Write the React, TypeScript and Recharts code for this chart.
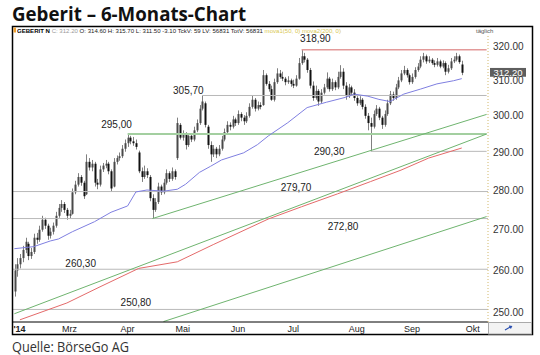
import React from 'react';
import { ComposedChart, Bar, Line, XAxis, YAxis, ReferenceLine, ReferenceDot } from 'recharts';

// daily candles: [open, high, low, close]
const OHLC: [number, number, number, number][] = [
  [255.0, 261.5, 253.8, 260.0], [260.0, 263.0, 258.5, 261.5], [261.5, 264.0, 260.5, 263.0], [263.0, 266.0, 262.0, 265.0],
  [265.0, 268.0, 264.2, 267.0], [266.5, 267.0, 262.5, 263.5], [263.5, 265.5, 262.8, 264.5], [264.5, 269.0, 264.0, 268.0],
  [268.0, 269.2, 266.5, 267.5], [267.5, 271.0, 267.0, 270.0], [270.0, 273.5, 269.5, 272.5], [272.5, 273.0, 270.2, 271.0],
  [271.0, 271.5, 267.5, 268.5], [268.5, 270.5, 267.8, 269.5], [269.5, 271.8, 268.8, 271.0], [271.0, 274.5, 270.5, 273.5],
  [273.5, 276.5, 273.0, 275.5], [275.5, 277.5, 274.5, 276.5], [276.5, 277.0, 274.2, 275.0], [275.0, 275.5, 272.5, 273.5],
  [273.5, 275.0, 272.8, 274.0], [274.0, 280.5, 273.8, 279.5], [279.5, 282.5, 279.0, 281.5], [281.5, 284.5, 281.0, 283.5],
  [283.5, 284.0, 281.2, 282.0], [282.0, 282.5, 277.8, 278.5], [279.0, 289.5, 278.8, 287.5], [287.5, 288.5, 285.2, 286.0],
  [286.0, 288.0, 285.0, 287.0], [287.0, 287.5, 281.0, 282.0], [282.0, 283.0, 280.3, 281.5], [281.5, 286.5, 281.0, 285.5],
  [285.5, 287.2, 284.8, 286.5], [286.5, 288.0, 285.8, 287.0], [287.0, 287.5, 284.2, 285.0], [285.0, 285.5, 279.6, 280.5],
  [281.0, 288.5, 280.8, 287.5], [287.5, 289.2, 286.8, 288.5], [288.5, 290.0, 287.8, 289.0], [289.0, 292.0, 288.5, 291.0],
  [291.0, 293.5, 290.2, 292.5], [292.5, 295.0, 291.5, 294.0], [294.0, 294.5, 292.2, 293.0], [293.0, 294.2, 291.8, 292.5],
  [292.5, 293.5, 290.8, 291.5], [290.0, 290.5, 284.5, 285.0], [285.0, 286.0, 282.2, 283.5], [283.5, 286.5, 283.0, 285.0],
  [285.0, 285.8, 283.2, 284.0], [283.5, 284.0, 277.2, 278.0], [278.0, 279.0, 272.8, 275.0], [275.0, 278.0, 274.5, 277.0],
  [277.0, 282.0, 276.5, 281.0], [281.0, 281.5, 278.8, 279.5], [279.5, 283.0, 279.0, 282.0], [282.0, 285.5, 281.5, 284.5],
  [284.5, 285.0, 282.2, 283.0], [283.0, 286.0, 282.5, 285.0], [285.0, 285.5, 282.8, 283.5], [288.5, 299.5, 288.0, 298.0],
  [297.5, 298.0, 293.5, 294.0], [294.0, 296.0, 293.2, 295.0], [295.0, 295.5, 290.8, 292.0], [292.0, 295.2, 291.5, 294.5],
  [294.5, 295.0, 292.8, 293.5], [293.5, 297.0, 293.0, 296.0], [296.0, 299.0, 295.5, 298.0], [298.0, 303.0, 297.5, 302.0],
  [302.0, 305.7, 301.5, 304.0], [303.5, 304.0, 296.8, 297.5], [297.0, 297.5, 291.0, 292.0], [292.0, 293.0, 287.5, 289.5],
  [289.5, 292.0, 288.8, 291.0], [291.0, 291.5, 288.5, 289.5], [289.5, 292.0, 289.0, 291.0], [291.0, 294.5, 290.5, 293.5],
  [293.5, 296.5, 293.0, 295.5], [295.5, 298.5, 295.0, 297.5], [297.5, 298.2, 296.0, 297.0], [297.0, 300.0, 296.5, 299.0],
  [299.0, 299.5, 297.2, 298.0], [298.0, 301.5, 297.5, 300.5], [300.5, 301.0, 298.5, 299.5], [299.5, 300.2, 297.5, 298.5],
  [298.5, 301.0, 298.0, 300.0], [300.0, 303.5, 299.5, 302.5], [302.5, 305.6, 302.0, 304.5], [304.5, 305.0, 301.2, 302.0],
  [302.0, 304.0, 301.5, 303.0], [303.0, 303.8, 301.8, 302.5], [303.0, 313.0, 302.8, 311.5], [311.5, 312.0, 308.5, 309.0],
  [309.0, 309.8, 306.8, 307.5], [307.5, 308.5, 304.2, 304.5], [304.5, 310.5, 304.0, 309.5], [309.5, 313.5, 309.0, 312.0],
  [312.0, 313.0, 310.5, 311.0], [311.0, 312.5, 309.8, 310.5], [310.5, 311.0, 308.6, 309.5], [309.5, 311.2, 309.0, 310.0],
  [310.0, 310.5, 308.2, 309.0], [309.0, 310.2, 307.8, 308.5], [308.5, 311.5, 308.2, 310.5], [310.5, 316.5, 310.2, 315.0],
  [315.0, 318.9, 314.5, 317.0], [317.0, 318.0, 315.2, 316.0], [316.0, 316.5, 312.2, 313.0], [313.0, 313.6, 307.7, 308.5],
  [308.5, 309.7, 304.2, 305.0], [305.0, 308.5, 304.5, 307.0], [307.0, 307.5, 302.8, 304.0], [304.0, 307.5, 303.5, 306.5],
  [306.5, 309.0, 306.0, 308.0], [308.0, 312.3, 307.5, 310.5], [310.5, 311.0, 306.8, 307.5], [307.5, 310.5, 307.0, 309.5],
  [309.5, 310.0, 307.2, 308.0], [308.0, 312.5, 307.5, 311.0], [311.0, 314.4, 310.5, 312.5], [312.5, 313.5, 307.5, 308.5],
  [308.5, 309.5, 304.5, 305.5], [305.5, 309.0, 305.0, 308.0], [308.0, 308.5, 305.8, 306.5], [306.5, 307.5, 304.2, 305.0],
  [305.0, 305.5, 302.8, 303.5], [303.5, 305.5, 303.0, 304.5], [304.5, 305.0, 301.8, 302.5], [302.5, 303.2, 299.2, 300.0],
  [300.0, 300.8, 296.0, 298.0], [298.0, 299.5, 290.3, 297.0], [297.0, 301.5, 296.5, 300.5], [300.5, 303.0, 300.0, 302.0],
  [302.0, 302.5, 298.8, 299.5], [299.5, 300.0, 296.4, 297.5], [297.5, 301.5, 297.0, 300.5], [300.5, 304.5, 300.0, 303.5],
  [303.5, 307.0, 303.0, 306.0], [306.0, 306.8, 304.2, 305.0], [305.0, 309.0, 304.5, 308.0], [308.0, 311.0, 307.5, 310.0],
  [310.0, 313.0, 309.5, 312.0], [312.0, 314.2, 311.5, 313.0], [313.0, 313.5, 310.8, 311.5], [311.5, 312.0, 308.8, 309.5],
  [309.5, 312.0, 309.0, 311.0], [311.0, 313.8, 310.5, 313.0], [313.0, 315.0, 312.5, 314.0], [314.0, 317.0, 313.5, 316.0],
  [316.0, 318.0, 315.2, 317.0], [317.0, 317.5, 314.8, 315.5], [315.5, 317.0, 315.0, 316.0], [316.0, 316.5, 314.5, 315.0],
  [315.0, 315.8, 313.8, 314.5], [314.5, 316.5, 314.0, 315.5], [315.5, 316.0, 313.5, 314.0], [314.0, 315.8, 313.5, 315.0],
  [315.0, 315.5, 311.5, 312.5], [312.5, 314.5, 312.0, 313.5], [313.5, 316.5, 313.0, 315.5], [315.5, 317.0, 315.0, 316.0],
  [316.0, 318.0, 315.5, 317.0], [317.0, 317.5, 314.8, 315.3], [314.6, 315.7, 311.5, 312.2],
];

// moving averages read at sample days: [dayIndex, value]
const MA50: [number, number][] = [
  [0, 265.3], [7, 265.8], [13, 267.2], [16, 267.7], [21, 269.5], [29, 272.0], [35, 274.4], [41, 276.0],
  [44, 279.6], [48, 280.1], [54, 279.8], [59, 280.3], [62, 281.6], [67, 284.7], [71, 286.3], [75, 288.0],
  [83, 289.9], [88, 292.1], [92, 294.5], [99, 298.1], [106, 302.3], [113, 303.8], [120, 305.2], [123, 306.1],
  [128, 305.5], [132, 304.6], [136, 304.0], [141, 306.1], [147, 307.5], [153, 309.0], [159, 309.9], [162, 310.5],
];
const MA200: [number, number][] = [
  [2, 248.4], [19, 252.3], [31, 256.1], [45, 260.5], [59, 262.1], [72, 266.3], [92, 272.7], [104, 275.8],
  [117, 279.1], [129, 282.3], [140, 285.3], [150, 288.5], [162, 291.2],
];

const SLOTS = 172;
const MONTH_TICKS = [0, 20, 41, 61, 81, 101, 124, 144, 166];
const MONTH_LABELS = ["'14", 'Mrz', 'Apr', 'Mai', 'Jun', 'Jul', 'Aug', 'Sep', 'Okt'];
const Y_TICKS = [250, 260, 270, 280, 290, 300, 310, 320];
const Y_DOMAIN: [number, number] = [247.9, 323.0];
const LAST_CLOSE = 312.2;

// horizontal levels: value, starting day (null = full width)
const LEVEL_VALUES = [318.9, 305.7, 295.0, 290.3, 279.7, 272.8, 260.3, 250.8];
const LEVEL_FROM: (number | null)[] = [104, 68, 41, 129, null, null, null, null];
const LEVEL_COLORS = ['#e39a9a', '#b9b9b9', '#a3cfa0', '#b9b9b9', '#b9b9b9', '#b9b9b9', '#b9b9b9', '#b9b9b9'];
const LEVEL_WIDTHS = [1.5, 1, 2, 1, 1, 1, 1, 1];

// trend lines: [startDay, startValue, endDay, endValue]
const TRENDS: [number, number, number, number][] = [
  [0, 249.8, 171, 295.0],
  [50, 272.8, 171, 300.4],
  [54, 248.0, 171, 273.3],
];

const LABEL_TEXTS = ['318,90', '305,70', '295,00', '290,30', '279,70', '272,80', '260,30', '250,80'];
const LABEL_DAYS = [109, 63, 37, 114, 102, 119, 24, 44];
const LABEL_VALUES = [322.2, 307.2, 297.5, 290.3, 280.8, 270.8, 261.8, 252.4];

const FONT = '"Liberation Sans", Arial, sans-serif';

const ma50Map = new Map(MA50);
const ma200Map = new Map(MA200);
const data = Array.from({ length: SLOTS }, (_, i) => {
  const row: any = { i };
  const k = OHLC[i];
  if (k) {
    row.o = k[0]; row.h = k[1]; row.l = k[2]; row.c = k[3];
  }
  if (ma50Map.has(i)) row.ma50 = ma50Map.get(i);
  if (ma200Map.has(i)) row.ma200 = ma200Map.get(i);
  return row;
});

function Candle(props: any) {
  const { x, y, width, height, payload } = props;
  if (!payload || payload.h == null || x == null || y == null) return null;
  const top = Math.min(y, y + height);
  const bot = Math.max(y, y + height);
  const span = Math.log(payload.h) - Math.log(payload.l);
  const py = (v: number) => (span > 0 ? top + ((bot - top) * (Math.log(payload.h) - Math.log(v))) / span : top);
  const cx = Math.round(x + width / 2) + 0.5;
  const yo = py(payload.o);
  const yc = py(payload.c);
  const bTop = Math.min(yo, yc);
  const bH = Math.max(Math.abs(yc - yo), 1);
  const up = payload.c >= payload.o;
  return (
    <g>
      <line x1={cx} x2={cx} y1={top} y2={bot} stroke="#808080" strokeWidth={1} />
      <rect x={cx - 1} y={bTop} width={2} height={bH} fill={up ? '#4a4a4a' : '#111'} />
    </g>
  );
}

function XTick(props: any) {
  const { x, y, payload } = props;
  const idx = MONTH_TICKS.indexOf(payload.value);
  const first = idx === 0;
  return (
    <text x={first ? x - 1 : x} y={y + 10} textAnchor={first ? 'start' : 'middle'} fontSize={9}
      fontWeight={first ? 700 : 400} fill="#222" fontFamily={FONT}>
      {MONTH_LABELS[idx]}
    </text>
  );
}

function YTick(props: any) {
  const { x, y, payload } = props;
  return (
    <text x={x + 5} y={y + 3.5} fontSize={10} fill="#333" fontFamily={FONT}>
      {Number(payload.value).toFixed(2)}
    </text>
  );
}

function PriceTag(props: any) {
  const vb = props.viewBox || {};
  const x = (vb.x || 0) + (vb.width || 0) + 2;
  const y = vb.y || 0;
  return (
    <g>
      <rect x={x} y={y - 4.8} width={36} height={8.8} fill="#5e5e5e" />
      <text x={x + 18} y={y + 3} textAnchor="middle" fontSize={9.5} fill="#fff" fontFamily={FONT}>
        {LAST_CLOSE.toFixed(2)}
      </text>
    </g>
  );
}

export default function App() {
  return (
    <div style={{ position: 'absolute', left: 0, top: 0, width: 540, height: 355, background: '#fff', overflow: 'hidden' }}>
      <ComposedChart width={540} height={355} data={data} margin={{ top: 36, right: 8, bottom: 21, left: 13 }}
        barCategoryGap={0}>
        <XAxis dataKey="i" type="category" ticks={MONTH_TICKS} interval={0} tick={<XTick />} tickLine={false}
          tickSize={0} tickMargin={0} height={12} axisLine={{ stroke: '#000', strokeWidth: 1 }} />
        <YAxis orientation="right" scale="log" domain={Y_DOMAIN} allowDataOverflow ticks={Y_TICKS} width={44}
          tick={<YTick />} tickLine={false} tickSize={0} tickMargin={0}
          axisLine={{ stroke: '#d2b86a', strokeWidth: 1, strokeDasharray: '1 2' }} />
        {LEVEL_VALUES.map((v, k) =>
          LEVEL_FROM[k] == null ? (
            <ReferenceLine key={'lv' + k} y={v} stroke={LEVEL_COLORS[k]} strokeWidth={LEVEL_WIDTHS[k]} ifOverflow="visible" />
          ) : (
            <ReferenceLine key={'lv' + k} segment={[{ x: LEVEL_FROM[k] as number, y: v }, { x: SLOTS - 1, y: v }]}
              stroke={LEVEL_COLORS[k]} strokeWidth={LEVEL_WIDTHS[k]} ifOverflow="visible" />
          )
        )}
        {TRENDS.map((t, k) => (
          <ReferenceLine key={'tr' + k} segment={[{ x: t[0], y: t[1] }, { x: t[2], y: t[3] }]}
            stroke="#6fb46f" strokeWidth={1} ifOverflow="visible" />
        ))}
        <Line dataKey="ma200" stroke="#e46a6a" strokeWidth={1} dot={false} connectNulls isAnimationActive={false} />
        <Line dataKey="ma50" stroke="#7f7fe0" strokeWidth={1} dot={false} connectNulls isAnimationActive={false} />
        <Bar dataKey={(d: any) => (d.h == null ? null : [d.l, d.h])} shape={<Candle />} isAnimationActive={false} />
        {LABEL_TEXTS.map((s, k) => (
          <ReferenceDot key={'lb' + k} x={LABEL_DAYS[k]} y={LABEL_VALUES[k]} r={0} ifOverflow="visible"
            shape={(p: any) => (
              <text x={p.cx} y={p.cy + 3.5} textAnchor="middle" fontSize={10} fill="#222" fontFamily={FONT}>{s}</text>
            )} />
        ))}
        <ReferenceLine y={LAST_CLOSE} stroke="#000" strokeOpacity={0} ifOverflow="visible" label={<PriceTag />} />
      </ComposedChart>
      <svg width={540} height={355} style={{ position: 'absolute', left: 0, top: 0, pointerEvents: 'none' }}>
        <text x={12} y={21} fontSize={20} fontWeight={700} fill="#111" fontFamily='"Open Sans", sans-serif'
          textLength={234} lengthAdjust="spacingAndGlyphs">Geberit – 6-Monats-Chart</text>
        <rect x={12.5} y={26.5} width={520} height={308} fill="none" stroke="#000" strokeWidth={1.5} />
        <rect x={13.5} y={27.5} width={2.5} height={5} fill="#f0a030" />
        <text x={17} y={33} fontSize={6} fontFamily={FONT} textLength={324} lengthAdjust="spacingAndGlyphs">
          <tspan fill="#000" fontWeight={700}>GEBERIT N</tspan>
          <tspan fill="#999"> C: 312.20</tspan>
          <tspan fill="#222"> O: 314.60 H: 315.70 L: 311.50 -3.10 TckV: 59 LV: 56831 TotV: 56831 </tspan>
          <tspan fill="#d8c850">mova1(50, 0) mova2(200, 0)</tspan>
        </text>
        <text x={476} y={33} fontSize={6} fill="#555" fontFamily={FONT}>täglich</text>
        <rect x={488.5} y={322.5} width={43} height={11.5} fill="#f3f3f3" stroke="#aaa" strokeWidth={1} />
        <path d="M505 330 L511 326.5 M509 326 L511.5 326.5 L510.5 328.5" stroke="#2a4fb0" strokeWidth={1.2} fill="none" />
        <text x={12} y={352} fontSize={15} fill="#333" fontFamily='"Open Sans", sans-serif'
          textLength={117} lengthAdjust="spacingAndGlyphs">Quelle: BörseGo AG</text>
      </svg>
    </div>
  );
}
